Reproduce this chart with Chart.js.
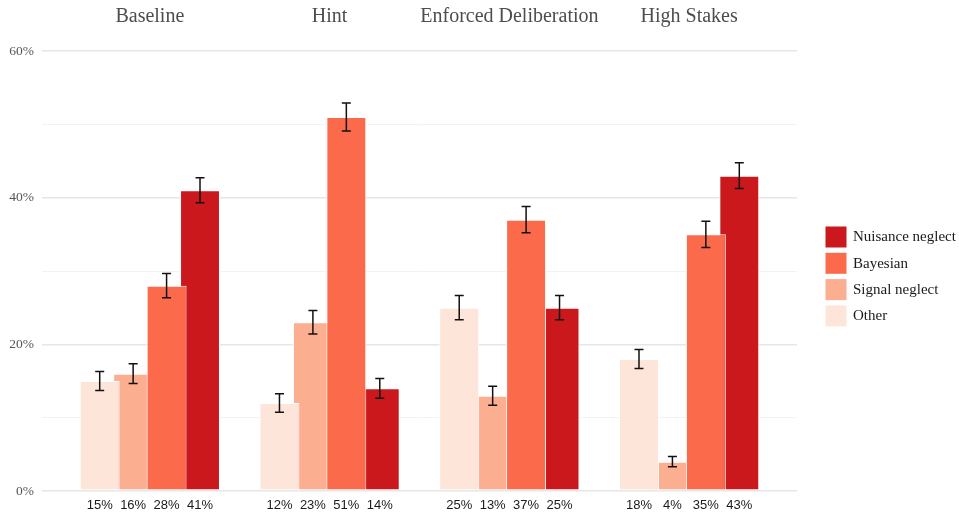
<!DOCTYPE html>
<html>
<head>
<meta charset="utf-8">
<script src="https://cdn.jsdelivr.net/npm/chart.js@4.4.1/dist/chart.umd.min.js"></script>
<style>
  html, body { margin: 0; padding: 0; background: #ffffff; }
  #wrap { width: 959px; height: 514px; position: relative; }
  canvas { display: block; }
</style>
</head>
<body>
<div id="wrap"><canvas id="chart" width="959" height="514"></canvas></div>
<script>
// Conditions (facets) and response strategies
const conditions = ['Baseline', 'Hint', 'Enforced Deliberation', 'High Stakes'];
const strategies = ['Other', 'Signal neglect', 'Bayesian', 'Nuisance neglect'];

// Share of participants per strategy, in percent, one entry per condition
const otherPct     = [15, 12, 25, 18];
const signalPct    = [16, 23, 13, 4];
const bayesianPct  = [28, 51, 37, 35];
const nuisancePct  = [41, 14, 25, 43];

// Half-width of the error bars, in percentage points
const otherErr     = [1.3, 1.25, 1.65, 1.3];
const signalErr    = [1.35, 1.6, 1.3, 0.7];
const bayesianErr  = [1.65, 1.9, 1.8, 1.8];
const nuisanceErr  = [1.7, 1.35, 1.65, 1.75];

// Labelled y ticks
const yTickLabels = [0, 20, 40, 60];

const palette = ['#FEE5D9', '#FCAE91', '#FB6A4A', '#CB181D'];
const seriesValues = [otherPct, signalPct, bayesianPct, nuisancePct];
const seriesErrors = [otherErr, signalErr, bayesianErr, nuisanceErr];

const SERIF = '"Liberation Serif", "Times New Roman", serif';
const SANS = '"Liberation Sans", Arial, sans-serif';

// Bars overlap slightly; paint the narrower neighbours first
const paintOrder = ['Signal neglect', 'Nuisance neglect', 'Other', 'Bayesian'];

const layeredBars = {
  id: 'layeredBars',
  beforeDatasetDraw() { return false; },
  afterDatasetsDraw(chart) {
    const { ctx, chartArea } = chart;
    ctx.save();
    ctx.beginPath();
    ctx.rect(chartArea.left, chartArea.top - 20, chartArea.right - chartArea.left, chartArea.bottom - chartArea.top + 22);
    ctx.clip();
    paintOrder.forEach(name => {
      const idx = strategies.indexOf(name);
      chart.getDatasetMeta(idx).controller.draw();
    });
    ctx.restore();
  }
};

const errorBars = {
  id: 'errorBars',
  afterDatasetsDraw(chart) {
    const { ctx } = chart;
    const y = chart.scales.y;
    ctx.save();
    ctx.strokeStyle = '#111111';
    ctx.lineWidth = 1.5;
    chart.data.datasets.forEach((ds, k) => {
      const meta = chart.getDatasetMeta(k);
      meta.data.forEach((bar, i) => {
        const v = seriesValues[k][i];
        const e = seriesErrors[k][i];
        const top = y.getPixelForValue(v + e);
        const bot = y.getPixelForValue(v - e);
        const cap = 4.5;
        ctx.beginPath();
        ctx.moveTo(bar.x, top); ctx.lineTo(bar.x, bot);
        ctx.moveTo(bar.x - cap, top); ctx.lineTo(bar.x + cap, top);
        ctx.moveTo(bar.x - cap, bot); ctx.lineTo(bar.x + cap, bot);
        ctx.stroke();
      });
    });
    ctx.restore();
  }
};

const valueLabels = {
  id: 'valueLabels',
  afterDatasetsDraw(chart) {
    const { ctx, chartArea } = chart;
    ctx.save();
    ctx.font = '13px ' + SANS;
    ctx.fillStyle = '#1a1a1a';
    ctx.textAlign = 'center';
    ctx.textBaseline = 'middle';
    chart.data.datasets.forEach((ds, k) => {
      chart.getDatasetMeta(k).data.forEach((bar, i) => {
        ctx.fillText(seriesValues[k][i] + '%', bar.x, chartArea.bottom + 14.5);
      });
    });
    ctx.restore();
  }
};

const sideLegend = {
  id: 'sideLegend',
  afterDraw(chart) {
    const { ctx, chartArea } = chart;
    const x0 = chartArea.right + 28;
    const y0 = 226;
    const step = 26.3;
    const size = 22;
    ctx.save();
    ctx.font = '15px ' + SERIF;
    ctx.textAlign = 'left';
    ctx.textBaseline = 'middle';
    const items = chart.data.datasets.map((ds, k) => ({ label: ds.label, color: ds.backgroundColor })).reverse();
    items.forEach((it, j) => {
      const y = y0 + j * step;
      ctx.fillStyle = '#ffffff';
      ctx.fillRect(x0, y, size, size);
      ctx.fillStyle = it.color;
      ctx.fillRect(x0 + 0.5, y + 0.5, size - 1, size - 1);
      ctx.fillStyle = '#1a1a1a';
      ctx.fillText(it.label, x0 + 28, y + size / 2 + 0.5);
    });
    ctx.restore();
  }
};

new Chart(document.getElementById('chart'), {
  type: 'bar',
  data: {
    datasets: strategies.map((name, k) => ({
      label: name,
      data: seriesValues[k].map((v, i) => ({ x: i, y: v })),
      backgroundColor: palette[k],
      borderColor: '#ffffff',
      borderWidth: 1,
      borderSkipped: false,
      categoryPercentage: 0.744,
      barPercentage: 1.194
    }))
  },
  options: {
    responsive: false,
    devicePixelRatio: 1,
    animation: false,
    layout: { padding: { top: 0, right: 162, bottom: 23, left: 0 } },
    plugins: {
      legend: { display: false },
      tooltip: { enabled: false }
    },
    scales: {
      x: {
        type: 'linear',
        position: 'top',
        offset: false,
        min: -0.6,
        max: 3.6,
        afterBuildTicks(scale) { scale.ticks = conditions.map((_, i) => ({ value: i })); },
        afterFit(scale) { scale.height = 51; },
        grid: { display: false },
        border: { display: false },
        ticks: {
          autoSkip: false,
          maxRotation: 0,
          padding: 14,
          color: '#4d4d4d',
          font: { family: SERIF, size: 20 },
          callback: (v) => conditions[v] !== undefined ? conditions[v] : ''
        }
      },
      y: {
        min: 0,
        max: 60,
        afterFit(scale) { scale.width = 42; },
        border: { display: false },
        grid: {
          drawTicks: false,
          color: (c) => (c.tick && yTickLabels.includes(c.tick.value)) ? '#e6e6e6' : '#f3f3f3',
          lineWidth: (c) => (c.tick && yTickLabels.includes(c.tick.value)) ? 1.4 : 1
        },
        ticks: {
          stepSize: 10,
          padding: 8,
          color: '#555555',
          font: { family: SERIF, size: 13.5 },
          callback: (v) => yTickLabels.includes(v) ? v + '%' : ''
        }
      }
    }
  },
  plugins: [layeredBars, errorBars, valueLabels, sideLegend]
});
</script>
</body>
</html>
